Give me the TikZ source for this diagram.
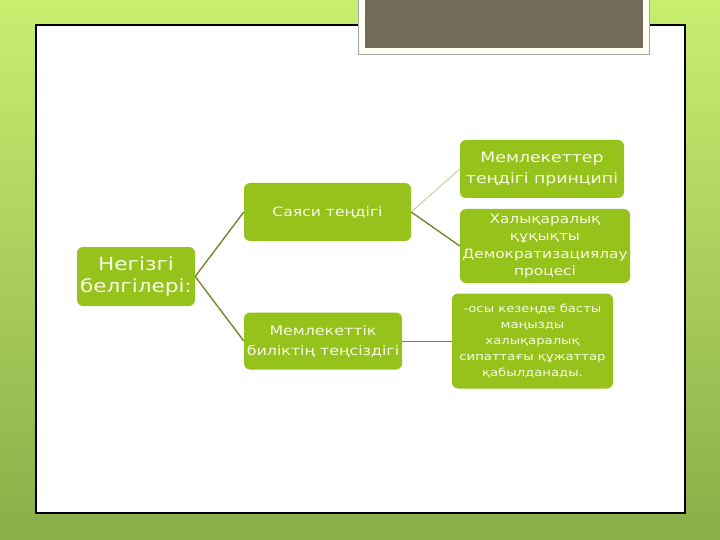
\documentclass[tikz,border=0pt]{standalone}
\usepackage{fontspec}
\setmainfont[FakeStretch=1.2]{DejaVu Sans}
\usepackage{xcolor}
\usetikzlibrary{calc}

\definecolor{leaf}{RGB}{150,194,28}
\definecolor{olive}{RGB}{122,134,44}
\definecolor{paleline}{RGB}{190,198,150}
\definecolor{bark}{RGB}{116,106,90}
\definecolor{bgtop}{RGB}{200,238,112}
\definecolor{bgbot}{RGB}{138,174,72}
\definecolor{ink}{RGB}{248,252,226}

\tikzset{
  box/.style={fill=leaf, rounded corners=6pt, text=ink, align=center,
    inner sep=2pt},
  link/.style={draw=olive, line width=1.4pt},
  thinlink/.style={draw=paleline, line width=0.8pt}
}

\begin{document}
\begin{tikzpicture}[x=1pt, y=-1pt]

% background and slide panel
\shade[top color=bgtop, bottom color=bgbot] (0,0) rectangle (720,540);
\useasboundingbox (0,0) rectangle (720,540);
\fill[white] (36,25) rectangle (685,513);
\draw[black, line width=1.5pt] (36,25) rectangle (685,513);
\fill[white!95!yellow, draw=gray!70] (358,-2) rectangle (649,54);
\fill[bark] (365,-2) rectangle (643,48);

% nodes
\node [box, minimum width=118pt, minimum height=59pt, font=\fontsize{18}{22}\selectfont]
  (root) at (136,276.5) {Негізгі\\белгілері:};

\node [box, minimum width=167pt, minimum height=58pt, font=\fontsize{13}{16}\selectfont]
  (tendik) at (327.5,212) {Саяси теңдігі};

\node [box, minimum width=158pt, minimum height=57pt, font=\fontsize{13.2}{20}\selectfont]
  (bilik) at (323,341) {Мемлекеттік\\биліктің теңсіздігі};

\node [box, minimum width=164pt, minimum height=58pt, font=\fontsize{14.4}{21}\selectfont]
  (printsip) at (542,169) {Мемлекеттер\\теңдігі принципі};

\node [box, minimum width=170pt, minimum height=74pt, font=\fontsize{12.8}{17.5}\selectfont]
  (halyk) at (545,246) {Халықаралық\\құқықты\\Демократизациялау\\процесі};

\node [box, minimum width=161pt, minimum height=95pt, font=\fontsize{11}{16}\selectfont]
  (osy) at (532.5,341) {-осы кезеңде басты\\маңызды\\халықаралық\\сипаттағы құжаттар\\қабылданады.};

% connectors
\draw [link] (root.east) -- (tendik.west);
\draw [link] (root.east) -- (bilik.west);
\draw [thinlink] (tendik.east) -- (printsip.west);
\draw [link] (tendik.east) -- (halyk.west);
\draw [link, line width=1pt] (bilik.east) -- (osy.west);

\end{tikzpicture}
\end{document}
